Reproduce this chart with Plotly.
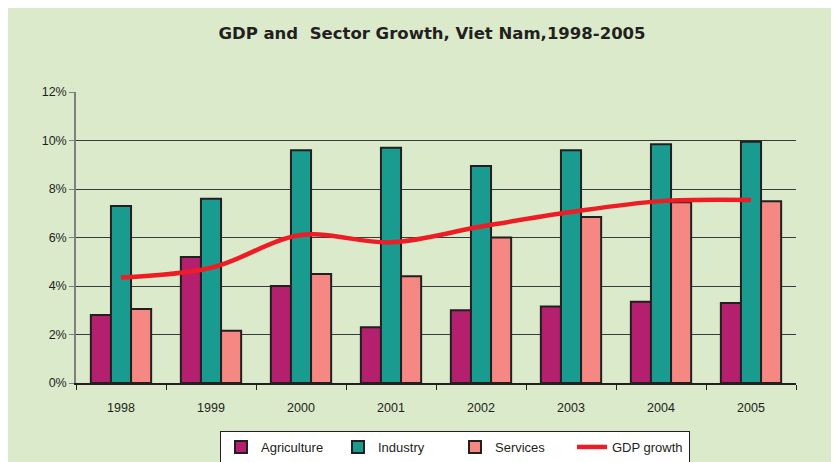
import plotly.graph_objects as go

years = ["1998", "1999", "2000", "2001", "2002", "2003", "2004", "2005"]
agriculture = [2.8, 5.2, 4.0, 2.3, 3.0, 3.15, 3.35, 3.3]
industry = [7.3, 7.6, 9.6, 9.7, 8.95, 9.6, 9.85, 9.95]
services = [3.05, 2.15, 4.5, 4.4, 6.0, 6.85, 7.45, 7.5]
gdp_growth = [4.35, 4.75, 6.1, 5.8, 6.45, 7.05, 7.5, 7.55]

OFF = 8  # page body margin
W, H = 839 - OFF, 462 - OFF
L, T = 76 - OFF, 92 - OFF
R = W - (796 - OFF)
B = H - (383 - OFF)
pw, ph = W - L - R, H - T - B

def px(x):
    return (x - OFF - L) / pw

def py(y):
    return (H - B - (y - OFF)) / ph

outline = dict(color="#231F20", width=2)
fig = go.Figure()
fig.add_bar(x=years, y=[v / 100 for v in agriculture], name="Agriculture",
            marker=dict(color="#B5206E", line=outline))
fig.add_bar(x=years, y=[v / 100 for v in industry], name="Industry",
            marker=dict(color="#1A9B8F", line=outline))
fig.add_bar(x=years, y=[v / 100 for v in services], name="Services",
            marker=dict(color="#F58882", line=outline))
fig.add_scatter(x=years, y=[v / 100 for v in gdp_growth], name="GDP growth",
                mode="lines", line=dict(color="#EE1C25", width=4.5, shape="spline", smoothing=1.0))

font_family = "Liberation Sans, Arial, sans-serif"
fig.update_layout(
    width=W, height=H,
    margin=dict(l=L, r=R, t=T, b=B, autoexpand=False),
    paper_bgcolor="#DBEACB",
    plot_bgcolor="rgba(0,0,0,0)",
    barmode="group", bargap=0.33, bargroupgap=0,
    font=dict(family=font_family, size=12, color="#231F20"),
    title=dict(text="<b>GDP and  Sector Growth, Viet Nam,1998-2005</b>",
               x=(432 - OFF) / W, xref="container", xanchor="center",
               y=1 - (33 - OFF) / H, yref="container", yanchor="middle",
               font=dict(size=16.5, color="#231F20", family="DejaVu Sans, sans-serif")),
    showlegend=True,
    legend=dict(orientation="h", x=px(455), xanchor="center", y=py(431), yanchor="top",
                bgcolor="white", bordercolor="#231F20", borderwidth=1,
                font=dict(size=13, color="#231F20"), traceorder="normal",
                itemwidth=30, entrywidth=72, entrywidthmode="pixels"),
)
fig.update_yaxes(range=[0, 0.12], dtick=0.02, tickformat=".0%",
                 showgrid=True, gridcolor="#3A3A3A", gridwidth=1,
                 showline=True, linecolor="#7F7F7F", linewidth=1.5,
                 ticks="outside", ticklen=5, tickcolor="#7F7F7F",
                 tickfont=dict(size=12.5, color="#231F20"), zeroline=False,
                 automargin=False)
fig.update_xaxes(showline=True, linecolor="#231F20", linewidth=1.5,
                 ticks="outside", tickson="boundaries", ticklen=5, tickcolor="#231F20",
                 ticklabelstandoff=12,
                 tickfont=dict(size=12.5, color="#231F20"), showgrid=False,
                 automargin=False)

fig.write_html("out.html")
